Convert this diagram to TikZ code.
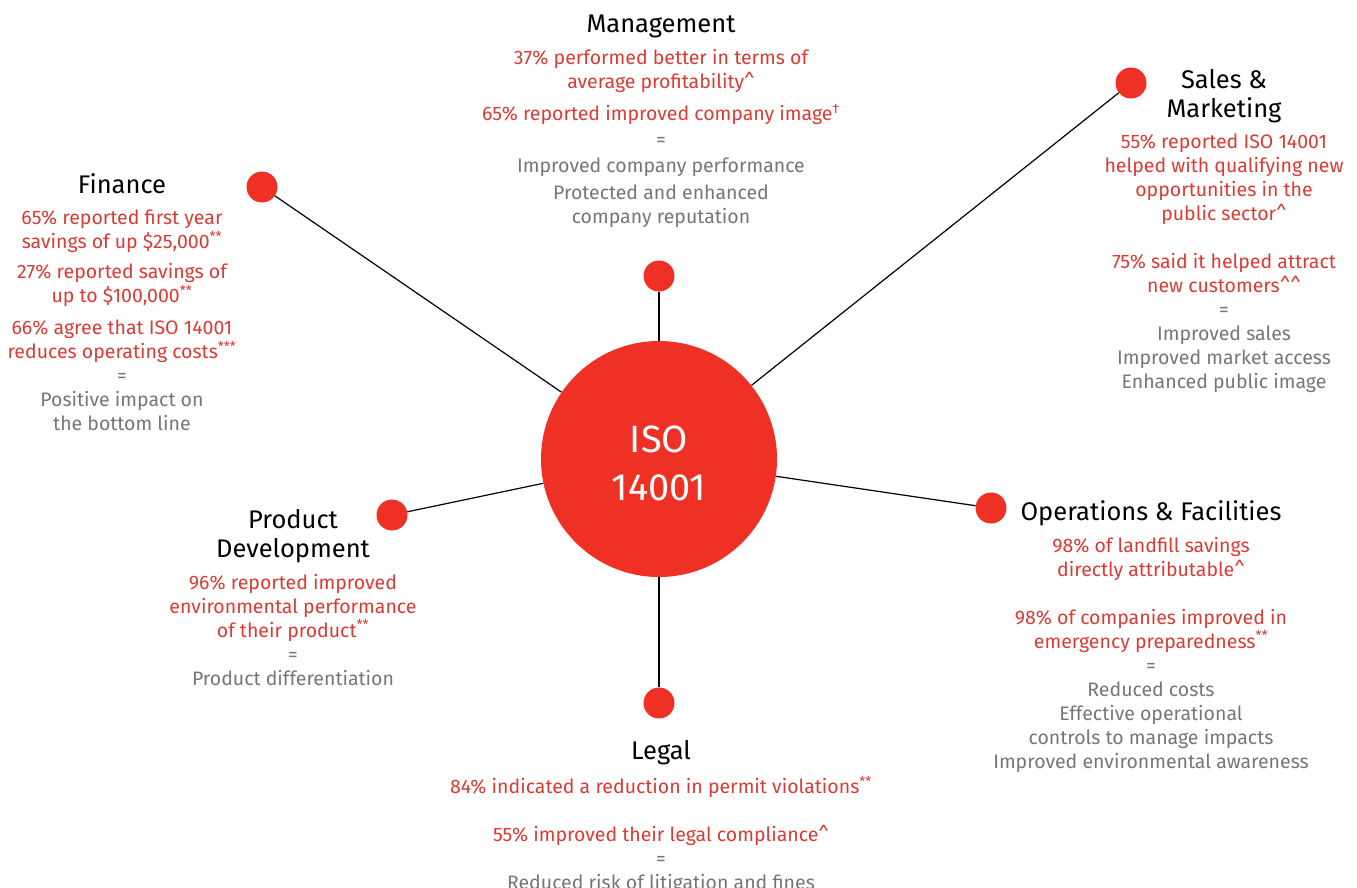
\documentclass[tikz,border=0pt]{standalone}
\usepackage{fontspec}
\setmainfont{Fira Sans}
\usetikzlibrary{positioning}
\definecolor{isored}{HTML}{EE3124}
\definecolor{statred}{HTML}{D93B35}
\definecolor{statgray}{HTML}{767676}
\newcommand{\fnsym}[1]{\textsuperscript{#1}}
\newcommand{\caret}{\textasciicircum}
\newcommand{\gain}[1]{\textcolor{statgray}{#1}}
\tikzstyle{hub} = [circle, fill=isored, minimum size=236pt, inner sep=0pt, text=white, align=center, font=\fontsize{38}{48}\selectfont]
\tikzstyle{area} = [circle, fill=isored, minimum size=31pt, inner sep=0pt]
\tikzstyle{head} = [anchor=north, align=center, inner sep=0pt, font=\fontsize{25.5}{29}\selectfont, execute at end node=\vphantom{g}]
\tikzstyle{stats} = [align=center, inner sep=0pt, text=statred, font=\fontsize{19.5}{24}\selectfont]
\tikzstyle{spoke} = [line width=1.2pt]

\begin{document}
\begin{tikzpicture}[x=1pt, y=-1pt, node distance=11pt]
    \useasboundingbox (0,0) rectangle (1357,887);

    % hub and the six areas
    \node[hub]  (iso)   at (659,459)  {\rule{0pt}{35pt}ISO\\14001};
    \node[area] (mgmt)  at (659,276)  {};
    \node[area] (fin)   at (262,187)  {};
    \node[area] (sales) at (1131,83)  {};
    \node[area] (ops)   at (991,508)  {};
    \node[area] (prod)  at (392,515)  {};
    \node[area] (legal) at (659,703)  {};

    \draw[spoke] (iso) -- (mgmt);
    \draw[spoke] (iso) -- (fin);
    \draw[spoke] (iso) -- (sales);
    \draw[spoke] (iso) -- (ops);
    \draw[spoke] (iso) -- (prod);
    \draw[spoke] (iso) -- (legal);

    % management
    \node[head] (mgmt head) at (661,15) {Management};
    \node[stats, below=of mgmt head] (mgmt stats) {37\% performed better in terms of\\ average profitability\caret\\[8pt]
        65\% reported improved company image\fnsym{†}\\[2pt] \gain{=}\\[2pt]
        \gain{Improved company performance}\\[3pt] \gain{Protected and enhanced}\\ \gain{company reputation}};

    % finance
    \node[head] (fin head) at (122,173) {Finance};
    \node[stats, below=of fin head] (fin stats) {65\% reported first year\\ savings of up \$25,000\fnsym{**}\\[6pt]
        27\% reported savings of\\ up to \$100,000\fnsym{**}\\[8pt]
        66\% agree that ISO 14001\\ reduces operating costs\fnsym{***}\\ \gain{=}\\
        \gain{Positive impact on}\\ \gain{the bottom line}};

    % sales and marketing
    \node[head] (sales head) at (1224,69) {Sales \&\\ Marketing};
    \node[stats, below=of sales head] (sales stats) {55\% reported ISO 14001\\ helped with qualifying new\\ opportunities in the\\ public sector\caret\\[24pt]
        75\% said it helped attract\\ new customers\caret\caret\\ \gain{=}\\
        \gain{Improved sales}\\ \gain{Improved market access}\\ \gain{Enhanced public image}};

    % operations and facilities
    \node[head] (ops head) at (1151,500) {Operations \& Facilities};
    \node[stats, below=of ops head] (ops stats) {98\% of landfill savings\\ directly attributable\caret\\[24pt]
        98\% of companies improved in\\ emergency preparedness\fnsym{**}\\ \gain{=}\\
        \gain{Reduced costs}\\ \gain{Effective operational}\\ \gain{controls to manage impacts}\\ \gain{Improved environmental awareness}};

    % product development
    \node[head] (prod head) at (293,509) {Product\\ Development};
    \node[stats, below=of prod head] (prod stats) {96\% reported improved\\ environmental performance\\ of their product\fnsym{**}\\ \gain{=}\\
        \gain{Product differentiation}};

    % legal
    \node[head] (legal head) at (661,740) {Legal};
    \node[stats, below=of legal head] (legal stats) {84\% indicated a reduction in permit violations\fnsym{**}\\[24pt]
        55\% improved their legal compliance\caret\\ \gain{=}\\
        \gain{Reduced risk of litigation and fines}};
\end{tikzpicture}
\end{document}
